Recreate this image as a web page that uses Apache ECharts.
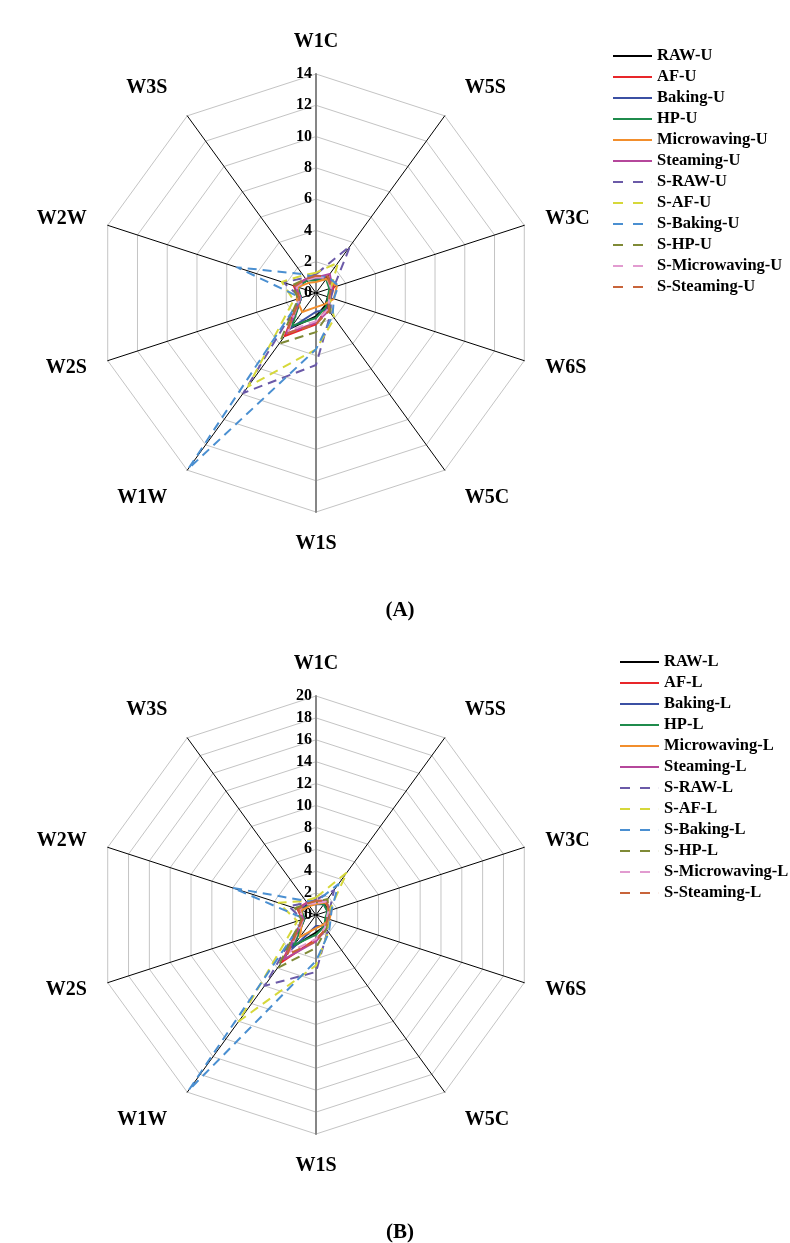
<!DOCTYPE html>
<html>
<head>
<meta charset="utf-8">
<script src="https://cdn.jsdelivr.net/npm/echarts@6/dist/echarts.min.js"></script>
<style>
  html, body { margin: 0; padding: 0; background: #fff; }
  #chart { width: 790px; height: 1243px; }
</style>
</head>
<body>
<div id="chart"></div>
<script>
// axes, clockwise from the top
var categories = ['W1C', 'W5S', 'W3C', 'W6S', 'W5C', 'W1S', 'W1W', 'W2S', 'W2W', 'W3S'];
var treatments = ['RAW', 'AF', 'Baking', 'HP', 'Microwaving', 'Steaming',
                  'S-RAW', 'S-AF', 'S-Baking', 'S-HP', 'S-Microwaving', 'S-Steaming'];
var lineColors = ['#000000', '#e8262a', '#3b50a3', '#1f8b4c', '#f28e2c', '#b5479b',
                  '#6b5aa8', '#d6d83a', '#4a8fd1', '#7f8a36', '#e29bd0', '#c8643a'];
var maxA = 14, stepA = 2;
var maxB = 20, stepB = 2;

// (A) upper
var rawU      = [0.9, 1.2, 1.0, 0.8, 1.0, 1.5, 2.8, 1.0, 1.3, 1.0];
var afU       = [1.0, 1.3, 1.2, 0.9, 1.2, 2.0, 3.4, 1.1, 1.5, 1.1];
var bakingU   = [0.9, 1.1, 1.0, 1.0, 1.3, 1.2, 2.8, 1.1, 1.4, 1.0];
var hpU       = [0.8, 1.1, 0.9, 0.8, 1.1, 1.6, 2.6, 1.0, 1.2, 1.0];
var microU    = [0.7, 1.1, 1.4, 1.2, 0.9, 0.9, 1.5, 1.3, 1.2, 0.8];
var steamU    = [1.0, 1.5, 1.1, 0.9, 1.4, 1.9, 3.2, 1.0, 1.4, 1.1];
var sRawU     = [1.2, 3.7, 1.2, 1.0, 1.6, 4.6, 7.9, 1.0, 2.2, 1.2];
var sAfU      = [1.3, 2.4, 1.0, 0.9, 2.0, 3.6, 7.4, 1.5, 2.3, 1.4];
var sBakingU  = [1.0, 1.3, 1.5, 1.2, 1.8, 3.6, 13.9, 1.0, 5.3, 1.5];
var sHpU      = [1.0, 1.3, 1.0, 0.9, 1.5, 2.5, 4.0, 1.2, 1.6, 1.1];
var sMicroU   = [1.0, 1.2, 1.0, 0.9, 1.3, 1.8, 3.0, 1.1, 1.3, 1.0];
var sSteamU   = [1.1, 1.3, 1.0, 0.9, 1.4, 2.0, 3.2, 1.1, 1.4, 1.1];

// (B) lower
var rawL      = [1.2, 1.3, 1.2, 1.0, 1.3, 1.6, 3.6, 1.1, 1.5, 1.2];
var afL       = [1.3, 1.5, 1.4, 1.2, 1.6, 2.2, 5.3, 1.3, 1.8, 1.4];
var bakingL   = [1.0, 1.2, 1.1, 1.0, 1.2, 1.0, 4.0, 1.2, 1.6, 1.1];
var hpL       = [1.1, 1.2, 1.1, 0.9, 1.3, 1.8, 3.4, 1.1, 1.4, 1.1];
var microL    = [1.0, 1.4, 1.5, 1.3, 1.1, 1.2, 2.5, 1.3, 1.4, 1.0];
var steamL    = [1.3, 1.6, 1.3, 1.1, 1.6, 2.4, 5.0, 1.2, 1.7, 1.4];
var sRawL     = [1.4, 2.8, 1.3, 1.2, 1.8, 5.2, 8.0, 1.3, 2.6, 1.4];
var sAfL      = [1.6, 4.8, 1.3, 1.1, 1.9, 4.6, 12.0, 1.8, 3.6, 1.6];
var sBakingL  = [1.2, 3.5, 1.5, 1.4, 2.0, 4.2, 19.8, 1.1, 8.0, 1.6];
var sHpL      = [1.2, 1.8, 1.2, 1.1, 1.6, 3.0, 6.0, 1.4, 2.0, 1.3];
var sMicroL   = [1.1, 1.5, 1.2, 1.0, 1.4, 2.2, 4.2, 1.2, 1.6, 1.2];
var sSteamL   = [1.3, 1.6, 1.2, 1.1, 1.5, 2.4, 4.5, 1.3, 1.7, 1.3];

var valuesU = [rawU, afU, bakingU, hpU, microU, steamU, sRawU, sAfU, sBakingU, sHpU, sMicroU, sSteamU];
var valuesL = [rawL, afL, bakingL, hpL, microL, steamL, sRawL, sAfL, sBakingL, sHpL, sMicroL, sSteamL];

var serif = "'Liberation Serif', 'Times New Roman', serif";
var solidIcon = 'rect';
var dashIcon = 'path://M0,0h10v2h-10z M20,0h10v2h-10z M38.9,0h0.1v2h-0.1z';

// echarts radar runs counter-clockwise, so flip the order after the first axis
function ccw(arr){
  return [arr[0]].concat(arr.slice(1).reverse());
}

function makeRadar(cx, cy, max, step){
  var ind = categories.map(function(c, i){
    var o = { name: c, min: 0, max: max };
    if (i == 1 || i == 4 || i == 6 || i == 9) o.nameGap = 34;
    if (i == 0 || i == 5) {
      o.axisLine = { lineStyle: { color: '#868686', width: 2 } };
    }
    if (i == 0) {
      o.axisLabel = { show: true };
    }
    return o;
  });
  return {
    center: [cx, cy],
    radius: 219,
    startAngle: 90,
    splitNumber: max / step,
    shape: 'polygon',
    indicator: ccw(ind),
    nameGap: 22,
    axisName: { color: '#000', fontFamily: serif, fontWeight: 'bold', fontSize: 20 },
    axisLine: { lineStyle: { color: '#000', width: 1 } },
    axisTick: { show: false },
    axisLabel: { show: false, color: '#000', fontFamily: serif, fontWeight: 'bold', fontSize: 16, margin: 4 },
    splitLine: { lineStyle: { color: '#c4c4c4', width: 1 } },
    splitArea: { show: false }
  };
}

function makeSeries(radarIndex, values, suffix){
  var series = [];
  for (var i = 0; i < treatments.length; i++) {
    var nm = treatments[i] + suffix;
    series.push({
      type: 'radar',
      name: nm,
      radarIndex: radarIndex,
      symbol: 'none',
      silent: true,
      emphasis: { disabled: true },
      itemStyle: { color: lineColors[i] },
      lineStyle: { color: lineColors[i], width: 2, type: i < 6 ? 'solid' : [9, 6] },
      data: [{ name: nm, value: ccw(values[i]) }]
    });
  }
  return series;
}

function makeLegend(left, top, suffix){
  return {
    orient: 'vertical',
    left: left,
    top: top,
    padding: 0,
    itemWidth: 39,
    itemHeight: 2,
    itemGap: 0,
    selectedMode: false,
    itemStyle: { borderWidth: 0 },
    textStyle: { color: '#000', fontFamily: serif, fontWeight: 'bold', fontSize: 16.5, lineHeight: 21 },
    data: treatments.map(function(t, i){
      return { name: t + suffix, icon: i < 6 ? solidIcon : dashIcon };
    })
  };
}

var myChart = echarts.init(document.getElementById('chart'), null, { renderer: 'canvas' });
var option = {
  backgroundColor: '#fff',
  animation: false,
  title: [
    { text: '(A)', left: 395, top: 595, textAlign: 'center',
      textStyle: { color: '#000', fontFamily: serif, fontWeight: 'bold', fontSize: 21 } },
    { text: '(B)', left: 395, top: 1217, textAlign: 'center',
      textStyle: { color: '#000', fontFamily: serif, fontWeight: 'bold', fontSize: 21 } }
  ],
  legend: [ makeLegend(613, 45.5, '-U'), makeLegend(620, 651.5, '-L') ],
  radar: [ makeRadar(316, 293, maxA, stepA), makeRadar(316, 915, maxB, stepB) ],
  series: makeSeries(0, valuesU, '-U').concat(makeSeries(1, valuesL, '-L'))
};
myChart.setOption(option);
</script>
</body>
</html>
